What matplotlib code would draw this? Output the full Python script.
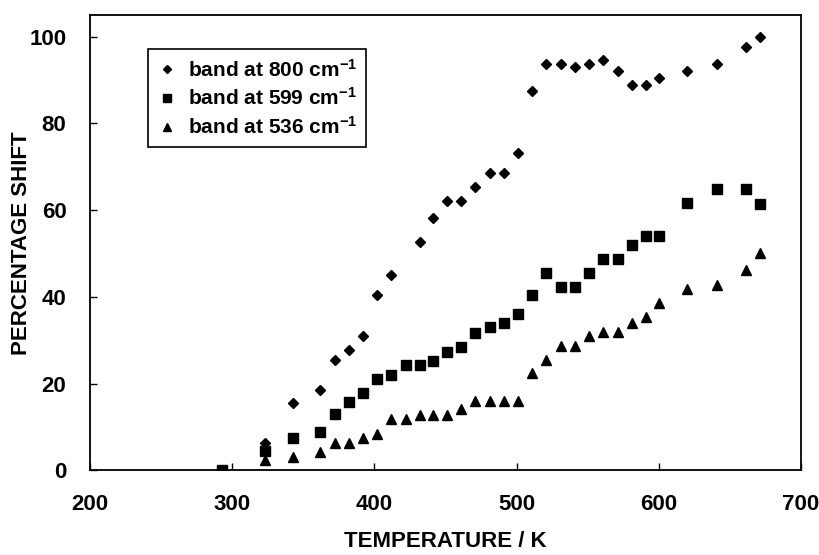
import matplotlib
matplotlib.use("Agg")
import matplotlib.pyplot as plt

plt.rcParams['font.family'] = ['Liberation Sans', 'DejaVu Sans']
plt.rcParams['font.weight'] = 'bold'
plt.rcParams['mathtext.default'] = 'regular'

# band at 800 cm-1 (diamonds)
temp_800 = [293, 323, 343, 362, 372, 382, 392, 402, 412, 432, 441, 451, 461,
            471, 481, 491, 501, 511, 521, 531, 541, 551, 561, 571, 581, 591,
            600, 620, 641, 661, 671]
shift_800 = [0, 6.3, 15.5, 18.6, 25.4, 27.8, 31.0, 40.4, 45.0, 52.7, 58.3,
             62.2, 62.2, 65.4, 68.5, 68.5, 73.2, 87.5, 93.8, 93.8, 92.9, 93.8,
             94.6, 92.1, 88.9, 88.9, 90.5, 92.1, 93.7, 97.6, 100]

# band at 599 cm-1 (squares)
temp_599 = [293, 323, 343, 362, 372, 382, 392, 402, 412, 422, 432, 441, 451,
            461, 471, 481, 491, 501, 511, 521, 531, 541, 551, 561, 571, 581,
            591, 600, 620, 641, 661, 671]
shift_599 = [0, 4.4, 7.6, 8.8, 13.1, 15.7, 17.9, 21.0, 22.1, 24.2, 24.2, 25.3,
             27.4, 28.5, 31.8, 33.0, 34.0, 36.1, 40.4, 45.6, 42.3, 42.3, 45.6,
             48.8, 48.8, 51.9, 54.1, 54.1, 61.6, 64.8, 64.8, 61.5]

# band at 536 cm-1 (triangles)
temp_536 = [293, 323, 343, 362, 372, 382, 392, 402, 412, 422, 432, 441, 451,
            461, 471, 481, 491, 501, 511, 521, 531, 541, 551, 561, 571, 581,
            591, 600, 620, 641, 661, 671]
shift_536 = [0, 2.4, 3.1, 4.2, 6.4, 6.4, 7.6, 8.5, 11.9, 11.9, 12.9, 12.9,
             12.9, 14.1, 16.1, 16.1, 16.1, 16.1, 22.5, 25.5, 28.8, 28.8, 30.9,
             32.0, 32.0, 34.0, 35.3, 38.5, 41.8, 42.8, 46.1, 50.1]

fig = plt.figure(figsize=(8.2, 5.55), dpi=100)
ax = fig.add_axes([0.1098, 0.1523, 0.867, 0.8207])

ax.plot(temp_800, shift_800, 'D', color='black', ms=5.5, ls='none',
        label='band at 800 cm$^{-1}$')
ax.plot(temp_599, shift_599, 's', color='black', ms=6.5, ls='none',
        label='band at 599 cm$^{-1}$')
ax.plot(temp_536, shift_536, '^', color='black', ms=6.5, ls='none',
        label='band at 536 cm$^{-1}$')

ax.set_xlim(200, 700)
ax.set_ylim(0, 105)
ax.set_xticks([200, 300, 400, 500, 600, 700])
ax.set_yticks([0, 20, 40, 60, 80, 100])
ax.tick_params(direction='in', length=5, width=1, labelsize=16)
ax.tick_params(axis='x', pad=17)
ax.tick_params(axis='y', pad=17)
for s in ax.spines.values():
    s.set_linewidth(1.3)

ax.set_xlabel('TEMPERATURE / K', fontsize=16, fontweight='bold')
ax.set_ylabel('PERCENTAGE SHIFT', fontsize=16, fontweight='bold')
ax.xaxis.set_label_coords(0.5, -0.133)
ax.yaxis.set_label_coords(-0.082, 0.5)

leg = ax.legend(loc='upper left', bbox_to_anchor=(0.081, 0.925),
                fancybox=False, framealpha=1, edgecolor='black',
                fontsize=15, handletextpad=0.56, borderpad=0.45,
                labelspacing=0.33, handlelength=0.92, borderaxespad=0,
                markerscale=0.8)
leg.get_frame().set_linewidth(1.2)

fig.savefig('out.png', dpi=100)
